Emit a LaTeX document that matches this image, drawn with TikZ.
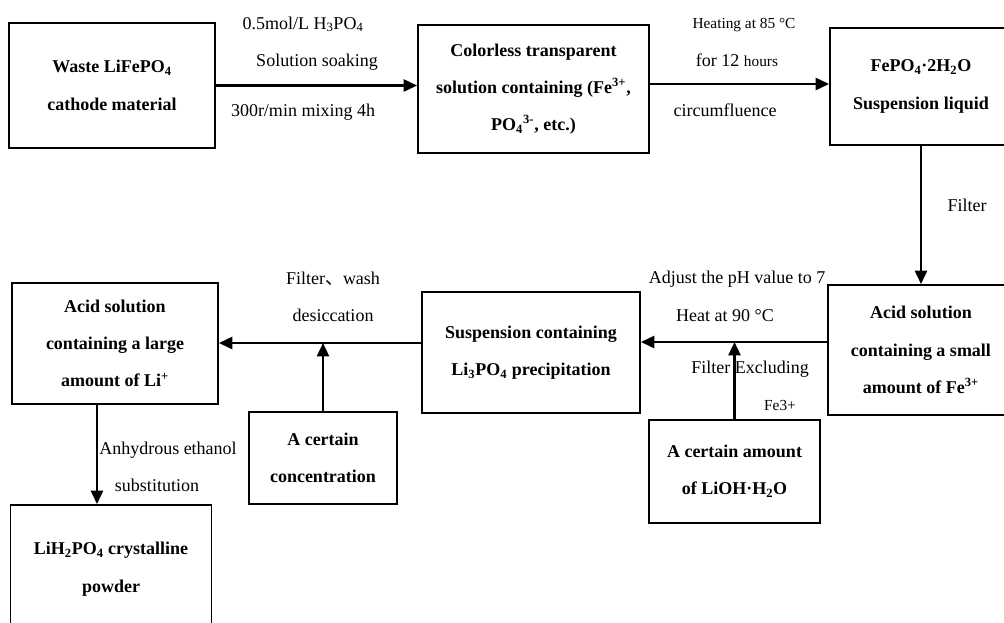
\documentclass[tikz,border=0pt]{standalone}
\usepackage{fontspec}
\setmainfont{Liberation Serif}
\newfontfamily\cjkfont{Noto Sans CJK SC}
\usetikzlibrary{arrows.meta, positioning}
\tikzset{
  box/.style={draw, line width=1.4pt, align=center, inner sep=0pt, font=\fontsize{13.5}{28}\selectfont\bfseries},
  lbl/.style={inner sep=0pt, anchor=base, font=\fontsize{13.5}{16}\selectfont},
  lblsmall/.style={lbl, font=\fontsize{11.5}{13}\selectfont},
  arr/.style={line width=1.8pt, -{Triangle[length=10pt,width=9pt]}}
}

\begin{document}
\begin{tikzpicture}[x=0.75pt,y=-0.75pt]
  \useasboundingbox (0,0) rectangle (1004,622);
  \clip (0,0) rectangle (1004,622);
  \node[box, minimum width=154.5pt, minimum height=93.75pt] (waste) at (112,85.5) {Waste LiFePO\textsubscript{4}\\ cathode material};
  \node[box, minimum width=173.25pt, minimum height=96pt] (colorless) at (533.5,89) {Colorless transparent\\ solution containing (Fe\textsuperscript{3+},\\ PO\textsubscript{4}\textsuperscript{3-}, etc.)};
  \node[box, minimum width=136.5pt, minimum height=87.75pt] (fepo) at (921,86.5) {FePO\textsubscript{4}·2H\textsubscript{2}O\\ Suspension liquid};
  \node[box, minimum width=139.5pt, minimum height=97.5pt] (acidsmall) at (921,350) {Acid solution\\ containing a small\\ amount of Fe\textsuperscript{3+}};
  \node[box, minimum width=163.5pt, minimum height=90.75pt] (susp) at (531,352.5) {Suspension containing\\ Li\textsubscript{3}PO\textsubscript{4} precipitation};
  \node[box, minimum width=128.25pt, minimum height=77.25pt] (lioh) at (734.5,471.5) {A certain amount\\ of LiOH·H\textsubscript{2}O};
  \node[box, minimum width=154.5pt, minimum height=90.75pt] (acidlarge) at (115,343.5) {Acid solution\\ containing a large\\ amount of Li\textsuperscript{+}};
  \node[box, minimum width=111pt, minimum height=69pt] (conc) at (323,458) {A certain\\ concentration};
  \node[box, minimum width=150.75pt, minimum height=96pt] (powder) at (111,569) {LiH\textsubscript{2}PO\textsubscript{4} crystalline\\ powder};

  \coordinate (j0) at (740,84);
  \coordinate (j1) at (734,342);
  \coordinate (j2) at (323,343);
  \coordinate (j3) at (97,450);
  \draw[arr] (waste) -- (waste -| colorless.west);
  \draw[arr] (colorless.east |- j0) -- (fepo.west |- j0);
  \draw[arr] (fepo) -- (acidsmall);
  \draw[arr] (acidsmall.west |- j1) -- (susp.east |- j1);
  \draw[arr] (lioh) -- (lioh |- j1);
  \draw[arr] (susp.west |- j2) -- (acidlarge.east |- j2);
  \draw[arr] (conc) -- (conc |- j2);
  \draw[arr] (acidlarge.south -| j3) -- (powder.north -| j3);

  \node[lbl] (soak1) at (303,29) {0.5mol/L H\textsubscript{3}PO\textsubscript{4}};
  \node[lbl] (soak2) at (317,66) {Solution soaking};
  \node[lbl] (soak3) at (303,116) {300r/min mixing 4h};
  \node[lblsmall] (heat1) at (744,28) {Heating at 85 °C};
  \node[lbl] (heat2) at (737,66) {for 12 {\fontsize{11.5}{13}\selectfont hours}};
  \node[lbl] (heat3) at (725,116) {circumfluence};
  \node[lbl] (filt1) at (967,211) {Filter};
  \node[lbl] (adj1) at (737,283) {Adjust the pH value to 7};
  \node[lbl] (adj2) at (725,321) {Heat at 90 °C};
  \node[lbl] (adj3) at (750,373) {Filter Excluding};
  \node[lblsmall] (adj4) at (780,410) {Fe3+};
  \node[lbl] (wash1) at (333,284) {Filter{\cjkfont 、}wash};
  \node[lbl] (wash2) at (333,321) {desiccation};
  \node[lbl] (eth1) at (168,454) {Anhydrous ethanol};
  \node[lbl] (eth2) at (157,491) {substitution};
\end{tikzpicture}
\end{document}
